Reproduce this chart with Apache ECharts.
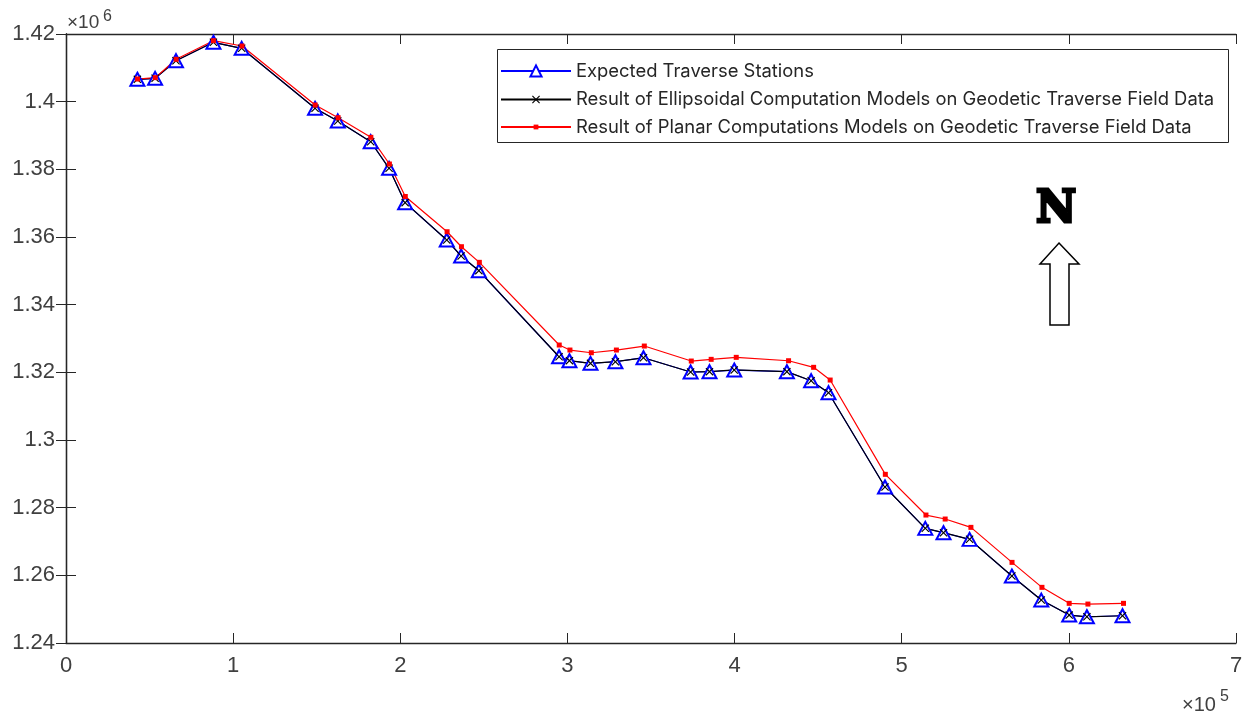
<!DOCTYPE html>
<html><head><meta charset="utf-8">
<script src="https://cdn.jsdelivr.net/npm/echarts@6/dist/echarts.min.js"></script>
<style>html,body{margin:0;padding:0;background:#fff}#c{width:1247px;height:714px}</style>
</head><body><div id="c"></div>
<script>
// Eastings (m) and Northings (m)
const expectedEastings = [42700, 53300, 65800, 88200, 105100, 149000, 162600, 182300, 193300, 202900, 227800, 236400, 247000, 295000, 301200, 313800, 328700, 345500, 373700, 385000, 399800, 431300, 445800, 456200, 490000, 514100, 525000, 540600, 565900, 583500, 600200, 610800, 632100];
const expectedNorthings = [1406610, 1406900, 1412110, 1417550, 1415770, 1398040, 1394280, 1388160, 1380300, 1370130, 1359110, 1354380, 1350030, 1324610, 1323430, 1322660, 1323130, 1324320, 1320090, 1320180, 1320680, 1320180, 1317520, 1313970, 1286100, 1273890, 1272590, 1270630, 1259790, 1252690, 1248260, 1247760, 1248050];
const ellipsoidalEastings = [42700, 53300, 65800, 88200, 105100, 149000, 162600, 182300, 193300, 202900, 227800, 236400, 247000, 295000, 301200, 313800, 328700, 345500, 373700, 385000, 399800, 431300, 445800, 456200, 490000, 514100, 525000, 540600, 565900, 583500, 600200, 610800, 632100];
const ellipsoidalNorthings = [1406600, 1406900, 1412100, 1417550, 1415770, 1398050, 1394300, 1388150, 1380300, 1370150, 1359100, 1354400, 1350050, 1324600, 1323450, 1322650, 1323150, 1324300, 1320100, 1320200, 1320700, 1320200, 1317500, 1313950, 1286100, 1273900, 1272600, 1270650, 1259800, 1252700, 1248250, 1247750, 1248050];
const planarEastings = [42800, 53400, 65900, 88200, 105300, 149100, 162800, 182400, 193500, 203000, 228000, 236600, 247300, 295100, 301500, 314300, 329300, 346000, 374100, 386000, 401000, 432300, 447300, 457200, 490200, 514500, 526000, 541400, 566000, 583900, 600200, 611400, 632700];
const planarNorthings = [1406700, 1407100, 1412520, 1418020, 1416450, 1399010, 1395260, 1389460, 1381570, 1371970, 1361560, 1357130, 1352510, 1328070, 1326590, 1325790, 1326590, 1327770, 1323340, 1323840, 1324430, 1323430, 1321480, 1317720, 1289850, 1277820, 1276640, 1274180, 1263830, 1256450, 1251720, 1251510, 1251720];
const seriesNames = ['Expected Traverse Stations', 'Result of Ellipsoidal Computation Models on Geodetic Traverse Field Data', 'Result of Planar Computations Models on Geodetic Traverse Field Data'];
const xRange = [0, 700000, 100000];
const yRange = [1240000, 1420000, 20000];
const xExponent = ['×10', '5'];
const yExponent = ['×10', '6'];
const northLabel = 'N';

const pairs = (xs, ys) => xs.map((x, i) => [x, ys[i]]);
const FONT = '"Liberation Sans", Arial, sans-serif';
const LFONT = 'Inter, "Liberation Sans", sans-serif';
const TXT = '#404040';
const AX = '#262626';
const xMark = 'path://M0,1L1,0L5,4L9,0L10,1L6,5L10,9L9,10L5,6L1,10L0,9L4,5Z';

const axisCommon = {
  axisLine: { show: true, lineStyle: { color: AX, width: 1.3 } },
  axisTick: { show: true, inside: true, length: 10, lineStyle: { color: AX, width: 1 } },
  splitLine: { show: false }
};

// one legend per entry so that each legend marker keeps its own size
const legendTops = [62, 90.5, 118];
const legendIconH = [14, 10, 6];
const legends = seriesNames.map((n, i) => ({
  orient: 'vertical', left: 500, top: legendTops[i], selectedMode: false,
  padding: 0, itemWidth: 70, itemHeight: legendIconH[i], z: 6,
  textStyle: { fontSize: 18.4, fontFamily: LFONT, color: '#262626' },
  data: [n]
}));

const chart = echarts.init(document.getElementById('c'), null, { renderer: 'canvas' });
chart.setOption({
  animation: false,
  backgroundColor: '#fff',
  grid: { left: 66, right: 11, top: 34, bottom: 71, containLabel: false, outerBoundsMode: 'none' },
  xAxis: [
    Object.assign({ type: 'value', position: 'bottom', min: xRange[0], max: xRange[1], interval: xRange[2],
      axisLabel: { margin: 12, fontSize: 22, fontFamily: FONT, color: TXT, formatter: v => String(v / 1e5) } }, axisCommon),
    Object.assign({ type: 'value', position: 'top', min: xRange[0], max: xRange[1], interval: xRange[2],
      axisLabel: { show: false } }, axisCommon)
  ],
  yAxis: [
    Object.assign({ type: 'value', position: 'left', min: yRange[0], max: yRange[1], interval: yRange[2],
      axisLabel: { margin: 11, fontSize: 22, fontFamily: FONT, color: TXT, formatter: v => String(+(v / 1e6).toFixed(2)) } }, axisCommon),
    Object.assign({ type: 'value', position: 'right', min: yRange[0], max: yRange[1], interval: yRange[2],
      axisLabel: { show: false } }, axisCommon)
  ],
  legend: legends,
  series: [
    { name: seriesNames[0], type: 'line', data: pairs(expectedEastings, expectedNorthings),
      symbol: 'emptyTriangle', symbolSize: [14, 13], showAllSymbol: true,
      lineStyle: { color: '#0000ff', width: 1.2 },
      itemStyle: { color: '#0000ff', borderColor: '#0000ff', borderWidth: 1.3 } },
    { name: seriesNames[1], type: 'line', data: pairs(ellipsoidalEastings, ellipsoidalNorthings),
      symbol: xMark, symbolSize: 8, showAllSymbol: true,
      lineStyle: { color: '#000000', width: 1.2 },
      itemStyle: { color: '#000000' } },
    { name: seriesNames[2], type: 'line', data: pairs(planarEastings, planarNorthings),
      symbol: 'rect', symbolSize: 5, showAllSymbol: true,
      lineStyle: { color: '#ff0000', width: 1.2 },
      itemStyle: { color: '#ff0000' } }
  ],
  graphic: [
    { type: 'rect', z: 5, shape: { x: 497.5, y: 49.5, width: 731, height: 93 },
      style: { fill: '#fff', stroke: AX, lineWidth: 1 } },
    { type: 'text', x: 67, y: 23, style: { text: yExponent[0], fontSize: 19, fontFamily: FONT, fill: TXT, verticalAlign: 'middle' } },
    { type: 'text', x: 103, y: 17, style: { text: yExponent[1], fontSize: 16, fontFamily: FONT, fill: TXT, verticalAlign: 'middle' } },
    { type: 'text', x: 1182, y: 705, style: { text: xExponent[0], fontSize: 20, fontFamily: FONT, fill: TXT, verticalAlign: 'middle' } },
    { type: 'text', x: 1220, y: 697, style: { text: xExponent[1], fontSize: 16, fontFamily: FONT, fill: TXT, verticalAlign: 'middle' } },
    { type: 'text', x: 1036, y: 211, style: { text: northLabel, fontSize: 44, fontWeight: 'bold', fontFamily: '"DejaVu Serif", serif', fill: '#000', stroke: '#000', lineWidth: 3, verticalAlign: 'middle' } },
    { type: 'polygon', shape: { points: [[1059, 243], [1079, 264], [1069, 264], [1069, 325], [1050, 325], [1050, 264], [1040, 264]] },
      style: { fill: '#fff', stroke: '#000', lineWidth: 1.5 } }
  ]
});
</script></body></html>
